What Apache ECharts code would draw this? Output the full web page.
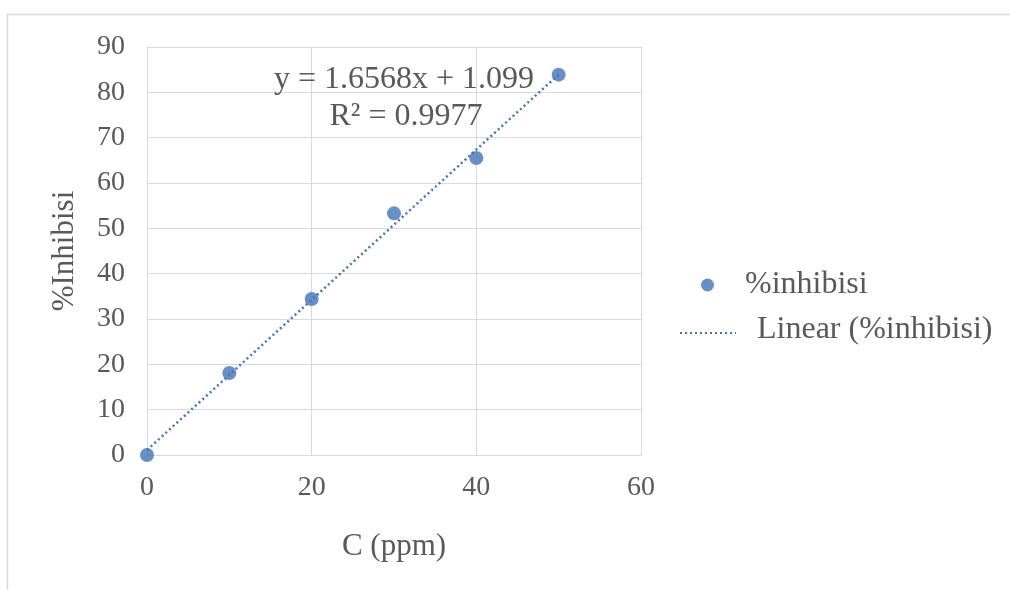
<!DOCTYPE html>
<html><head><meta charset="utf-8">
<script src="https://cdn.jsdelivr.net/npm/echarts@6/dist/echarts.min.js"></script>
<style>html,body{margin:0;padding:0;background:#fff}#c{width:1010px;height:590px}</style>
</head><body><div id="c"></div>
<script>
const xValues = [0, 10, 20, 30, 40, 50];
const yValues = [0, 18.1, 34.4, 53.3, 65.5, 83.9];
const trendX = [0, 50];
const trendY = [1.099, 83.939];
const seriesName = '%inhibisi';
const trendName = 'Linear (%inhibisi)';
const eqText = 'y = 1.6568x + 1.099';
const r2Text = 'R² = 0.9977';

const FONT = 'Liberation Serif';
const TXT = '#595959';
const BLUE = '#4374b8';
const chart = echarts.init(document.getElementById('c'), null, {renderer: 'canvas'});
chart.setOption({
  animation: false,
  backgroundColor: '#fff',
  textStyle: {fontFamily: FONT},
  grid: {left: 147, right: 369, top: 47, bottom: 135, containLabel: false},
  xAxis: {
    type: 'value', min: 0, max: 60, interval: 20,
    name: 'C (ppm)', nameLocation: 'middle', nameGap: 76,
    nameTextStyle: {fontFamily: FONT, fontSize: 31, color: TXT},
    axisLine: {show: true, lineStyle: {color: '#d9d9d9', width: 1}},
    axisTick: {show: false},
    axisLabel: {fontFamily: FONT, fontSize: 28, color: TXT, margin: 19},
    splitLine: {show: true, lineStyle: {color: '#d9d9d9', width: 1}}
  },
  yAxis: {
    type: 'value', min: 0, max: 90, interval: 10,
    name: '%Inhibisi', nameLocation: 'middle', nameGap: 67, nameRotate: 90,
    nameTextStyle: {fontFamily: FONT, fontSize: 31, color: TXT},
    axisLine: {show: true, lineStyle: {color: '#d9d9d9', width: 1}},
    axisTick: {show: false},
    axisLabel: {fontFamily: FONT, fontSize: 28, color: TXT, margin: 22},
    splitLine: {show: true, lineStyle: {color: '#d9d9d9', width: 1}}
  },
  legend: {
    orient: 'vertical', left: 696, top: 264,
    itemWidth: 13, itemHeight: 13, itemGap: 20,
    textStyle: {fontFamily: FONT, fontSize: 32, color: TXT, padding: [0, 0, 0, 26]},
    data: [{name: seriesName, icon: 'circle'}]
  },
  series: [
    {
      name: trendName, type: 'line',
      data: trendX.map((x, i) => [x, trendY[i]]),
      symbol: 'none', z: 2,
      lineStyle: {color: BLUE, width: 2.5, type: [2, 3]},
      itemStyle: {color: BLUE}
    },
    {
      name: seriesName, type: 'scatter',
      data: xValues.map((x, i) => [x, yValues[i]]),
      symbol: 'circle', symbolSize: 14, z: 3,
      itemStyle: {color: BLUE}
    }
  ],
  graphic: [
    {type: 'rect', shape: {x: 7.5, y: 14.5, width: 1100, height: 700}, style: {fill: null, stroke: '#d9d9d9', lineWidth: 1.5}, silent: true, z: -1},
    {type: 'text', x: 404, y: 80, style: {text: eqText, font: '32px "Liberation Serif"', fill: TXT, textAlign: 'center', textVerticalAlign: 'middle'}, z: 10},
    {type: 'text', x: 406, y: 117, style: {text: r2Text, font: '32px "Liberation Serif"', fill: TXT, textAlign: 'center', textVerticalAlign: 'middle'}, z: 10},
    {type: 'line', shape: {x1: 680, y1: 333, x2: 736, y2: 333}, style: {stroke: BLUE, lineWidth: 2, lineDash: [2, 3]}, z: 10},
    {type: 'text', x: 757, y: 330, style: {text: trendName, font: '32px "Liberation Serif"', fill: TXT, textAlign: 'left', textVerticalAlign: 'middle'}, z: 10}
  ]
});
</script></body></html>
